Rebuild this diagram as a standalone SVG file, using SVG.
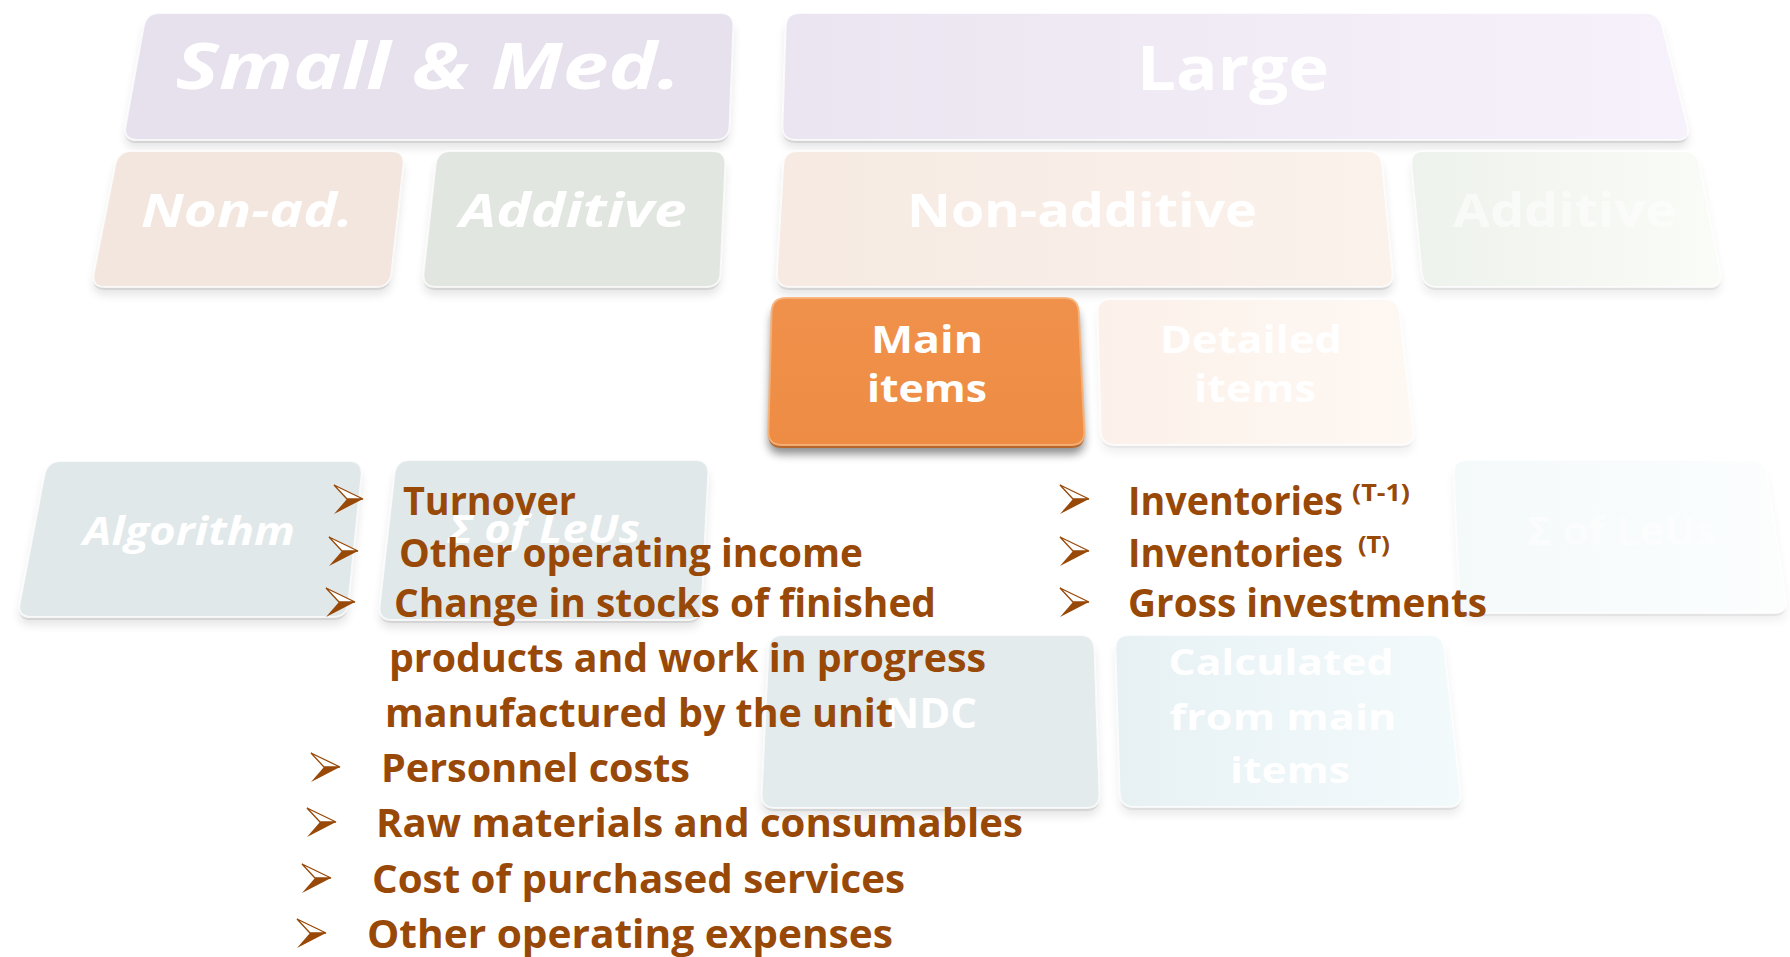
<svg xmlns="http://www.w3.org/2000/svg" width="1790" height="957" viewBox="0 0 1790 957">
<defs>
<style>
.shadow{fill:#000;opacity:.10;filter:url(#blur)}
.rim{fill:#000;opacity:.08}
.face{stroke:#fff;stroke-width:2;stroke-opacity:.75}
.lbl{font-family:"Open Sans","Liberation Sans",sans-serif;font-weight:700;fill:#fff;text-anchor:middle}
.it{font-style:italic}
.faint{fill-opacity:.55}
.item{font-family:"Open Sans","Liberation Sans",sans-serif;font-weight:700;font-size:39px;fill:#984807}
.sup{font-size:23px}
.bt{fill:#fff;stroke:#984807;stroke-width:1.3;stroke-linejoin:miter}
.bb{fill:#984807}
</style>
<filter id="blur" x="-10%" y="-20%" width="120%" height="150%"><feGaussianBlur stdDeviation="5"/></filter>
<linearGradient id="gLg" x1="0" y1="0" x2="1" y2="0"><stop offset="0" stop-color="#EBE5F1"/><stop offset="1" stop-color="#F6F1FA"/></linearGradient>
<linearGradient id="gNa2" x1="0" y1="0" x2="1" y2="0"><stop offset="0" stop-color="#F6EAE2"/><stop offset="1" stop-color="#FBF2EC"/></linearGradient>
<linearGradient id="gAd2" x1="0" y1="0" x2="1" y2="0"><stop offset="0" stop-color="#EEF2EC"/><stop offset="1" stop-color="#FAFCF7"/></linearGradient>
<linearGradient id="gMi" x1="0" y1="0" x2="0" y2="1"><stop offset="0" stop-color="#F0914B"/><stop offset="1" stop-color="#EE8C44"/></linearGradient>
<linearGradient id="gDi" x1="0" y1="0" x2="1" y2="0"><stop offset="0" stop-color="#FCF1EA"/><stop offset="1" stop-color="#FEF8F3"/></linearGradient>
<linearGradient id="gSum2" x1="0" y1="0" x2="1" y2="0"><stop offset="0" stop-color="#F4F9FA"/><stop offset="1" stop-color="#FCFEFE"/></linearGradient>
<linearGradient id="gCalc" x1="0" y1="0" x2="1" y2="0"><stop offset="0" stop-color="#E7F1F4"/><stop offset="1" stop-color="#F3FAFC"/></linearGradient>
<g id="bullet"><path class="bt" d="M-29,-14 L0,0 L-16,0 Z"/><path class="bb" d="M0,0 L-29,15 L-16,0 Z"/></g>
<path id="p-sm" d="M160,13 L720,13 Q734,13 733.4,27 L729.6,126 Q729,140 715,140 L137,140 Q123,140 125.5,126 L143.5,27 Q146,13 160,13Z"/>
<path id="p-lg" d="M800,13 L1645,13 Q1659,13 1662.5,27 L1687.5,126 Q1691,140 1677,140 L796,140 Q782,140 782.4,126 L785.6,27 Q786,13 800,13Z"/>
<path id="p-na1" d="M132,151 L391,151 Q405,151 403.5,165 L391.5,273 Q390,287 376,287 L105,287 Q91,287 93.8,273 L115.2,165 Q118,151 132,151Z"/>
<path id="p-ad1" d="M451,151 L712,151 Q726,151 725.4,165 L720.6,273 Q720,287 706,287 L436,287 Q422,287 423.5,273 L435.5,165 Q437,151 451,151Z"/>
<path id="p-na2" d="M798,151 L1367,151 Q1381,151 1382.3,165 L1392.7,273 Q1394,287 1380,287 L790,287 Q776,287 776.8,273 L783.2,165 Q784,151 798,151Z"/>
<path id="p-ad2" d="M1424,151 L1683,151 Q1697,151 1699.7,165 L1720.3,273 Q1723,287 1709,287 L1437,287 Q1423,287 1421.7,273 L1411.3,165 Q1410,151 1424,151Z"/>
<path id="p-mi" d="M786,298 L1064,298 Q1078,298 1078.7,312 L1084.3,431 Q1085,445 1071,445 L782,445 Q768,445 768.4,431 L771.6,312 Q772,298 786,298Z"/>
<path id="p-di" d="M1111,299 L1384,299 Q1398,299 1399.6,313 L1413.4,431 Q1415,445 1401,445 L1115,445 Q1101,445 1100.6,431 L1097.4,313 Q1097,299 1111,299Z"/>
<path id="p-alg" d="M61,461 L349,461 Q363,461 361.6,475 L348.4,603 Q347,617 333,617 L31,617 Q17,617 19.7,603 L44.3,475 Q47,461 61,461Z"/>
<path id="p-sum1" d="M410,460 L695,460 Q709,460 708.3,474 L701.7,606 Q701,620 687,620 L392,620 Q378,620 379.6,606 L394.4,474 Q396,460 410,460Z"/>
<path id="p-sum2" d="M1467,460 L1751,460 Q1765,460 1767.1,474 L1785.9,599 Q1788,613 1774,613 L1474,613 Q1460,613 1459.4,599 L1453.6,474 Q1453,460 1467,460Z"/>
<path id="p-ndc" d="M783,635 L1080,635 Q1094,635 1094.5,649 L1099.5,794 Q1100,808 1086,808 L775,808 Q761,808 761.6,794 L768.4,649 Q769,635 783,635Z"/>
<path id="p-calc" d="M1129,635 L1429,635 Q1443,635 1444.5,649 L1460.5,793 Q1462,807 1448,807 L1134,807 Q1120,807 1119.6,793 L1115.4,649 Q1115,635 1129,635Z"/>
</defs>
<rect width="1790" height="957" fill="#fff"/>

<g id="node-small-med">
<use href="#p-sm" class="shadow" transform="translate(0,8)"/>
<use href="#p-sm" class="rim" transform="translate(0,3)"/>
<use href="#p-sm" class="face" fill="#E6E1ED"/>
<text class="lbl it" x="428" y="89" font-size="64" textLength="505" lengthAdjust="spacingAndGlyphs">Small &amp; Med.</text>
</g>
<g id="node-large">
<use href="#p-lg" class="shadow" transform="translate(0,8)"/>
<use href="#p-lg" class="rim" transform="translate(0,3)"/>
<use href="#p-lg" class="face" fill="url(#gLg)"/>
<text class="lbl" x="1233" y="90" font-size="61" textLength="192" lengthAdjust="spacingAndGlyphs">Large</text>
</g>
<g id="node-non-ad">
<use href="#p-na1" class="shadow" transform="translate(0,8)"/>
<use href="#p-na1" class="rim" transform="translate(0,3)"/>
<use href="#p-na1" class="face" fill="#F2E6DF"/>
<text class="lbl it" x="247" y="227" font-size="46" textLength="212" lengthAdjust="spacingAndGlyphs">Non-ad.</text>
</g>
<g id="node-additive-sm">
<use href="#p-ad1" class="shadow" transform="translate(0,8)"/>
<use href="#p-ad1" class="rim" transform="translate(0,3)"/>
<use href="#p-ad1" class="face" fill="#E2E6E0"/>
<text class="lbl it" x="573" y="227" font-size="46" textLength="227" lengthAdjust="spacingAndGlyphs">Additive</text>
</g>
<g id="node-non-additive">
<use href="#p-na2" class="shadow" transform="translate(0,8)"/>
<use href="#p-na2" class="rim" transform="translate(0,3)"/>
<use href="#p-na2" class="face" fill="url(#gNa2)"/>
<text class="lbl" x="1082" y="227" font-size="46" textLength="350" lengthAdjust="spacingAndGlyphs">Non-additive</text>
</g>
<g id="node-additive-large">
<use href="#p-ad2" class="shadow" style="opacity:.07" transform="translate(0,8)"/>
<use href="#p-ad2" class="rim" style="opacity:.06" transform="translate(0,3)"/>
<use href="#p-ad2" class="face" fill="url(#gAd2)"/>
<text class="lbl faint" x="1565" y="227" font-size="46" textLength="224" lengthAdjust="spacingAndGlyphs">Additive</text>
</g>
<g id="node-main-items">
<use href="#p-mi" class="shadow" style="opacity:.45" transform="translate(0,9)"/>
<use href="#p-mi" transform="translate(0,3)" fill="#B8672C"/>
<use href="#p-mi" class="face" fill="url(#gMi)" style="stroke:#F6B27A;stroke-opacity:.9"/>
<text class="lbl" x="927" y="353" font-size="38" textLength="112" lengthAdjust="spacingAndGlyphs">Main</text>
<text class="lbl" x="927" y="402" font-size="38" textLength="120" lengthAdjust="spacingAndGlyphs">items</text>
</g>
<g id="node-detailed-items">
<use href="#p-di" class="shadow" style="opacity:.06" transform="translate(0,8)"/>
<use href="#p-di" class="rim" style="opacity:.04" transform="translate(0,3)"/>
<use href="#p-di" class="face" fill="url(#gDi)"/>
<text class="lbl" x="1251" y="353" font-size="38" textLength="182" lengthAdjust="spacingAndGlyphs">Detailed</text>
<text class="lbl" x="1255" y="402" font-size="38" textLength="122" lengthAdjust="spacingAndGlyphs">items</text>
</g>
<g id="node-algorithm">
<use href="#p-alg" class="shadow" transform="translate(0,8)"/>
<use href="#p-alg" class="rim" transform="translate(0,3)"/>
<use href="#p-alg" class="face" fill="#E1E8EA"/>
<text class="lbl it" x="189" y="545" font-size="40" textLength="212" lengthAdjust="spacingAndGlyphs">Algorithm</text>
</g>
<g id="node-sum-leus-sm">
<use href="#p-sum1" class="shadow" transform="translate(0,8)"/>
<use href="#p-sum1" class="rim" transform="translate(0,3)"/>
<use href="#p-sum1" class="face" fill="#E1E8EA"/>
<text class="lbl it" x="544" y="543" font-size="40" textLength="192" lengthAdjust="spacingAndGlyphs">Σ of LeUs</text>
</g>
<g id="node-sum-leus-large">
<use href="#p-sum2" class="shadow" style="opacity:.06" transform="translate(0,8)"/>
<use href="#p-sum2" class="rim" style="opacity:.05" transform="translate(0,3)"/>
<use href="#p-sum2" class="face" fill="url(#gSum2)"/>
<text class="lbl faint" x="1622" y="545" font-size="40" textLength="190" lengthAdjust="spacingAndGlyphs">Σ of LeUs</text>
</g>
<g id="node-ndc">
<use href="#p-ndc" class="shadow" transform="translate(0,8)"/>
<use href="#p-ndc" class="rim" transform="translate(0,3)"/>
<use href="#p-ndc" class="face" fill="#E3EBED"/>
<text class="lbl" x="931" y="728" font-size="42" textLength="92" lengthAdjust="spacingAndGlyphs">NDC</text>
</g>
<g id="node-calculated">
<use href="#p-calc" class="shadow" style="opacity:.08" transform="translate(0,8)"/>
<use href="#p-calc" class="rim" style="opacity:.06" transform="translate(0,3)"/>
<use href="#p-calc" class="face" fill="url(#gCalc)"/>
<text class="lbl" x="1281" y="675" font-size="36" textLength="225" lengthAdjust="spacingAndGlyphs">Calculated</text>
<text class="lbl" x="1283" y="730" font-size="36" textLength="227" lengthAdjust="spacingAndGlyphs">from main</text>
<text class="lbl" x="1290" y="783" font-size="36" textLength="120" lengthAdjust="spacingAndGlyphs">items</text>
</g>

<g id="list-left">
<use href="#bullet" x="363" y="499"/>
<text class="item" x="403" y="515" textLength="173" lengthAdjust="spacingAndGlyphs">Turnover</text>
<use href="#bullet" x="358" y="551"/>
<text class="item" x="399" y="567" textLength="464" lengthAdjust="spacingAndGlyphs">Other operating income</text>
<use href="#bullet" x="355" y="602"/>
<text class="item" x="394" y="617" textLength="542" lengthAdjust="spacingAndGlyphs">Change in stocks of finished</text>
<text class="item" x="389" y="672" textLength="597" lengthAdjust="spacingAndGlyphs">products and work in progress</text>
<text class="item" x="385" y="727" textLength="508" lengthAdjust="spacingAndGlyphs">manufactured by the unit</text>
<use href="#bullet" x="340" y="767"/>
<text class="item" x="381" y="782" textLength="309" lengthAdjust="spacingAndGlyphs">Personnel costs</text>
<use href="#bullet" x="336" y="822"/>
<text class="item" x="376" y="837" textLength="647" lengthAdjust="spacingAndGlyphs">Raw materials and consumables</text>
<use href="#bullet" x="331" y="878"/>
<text class="item" x="372" y="893" textLength="533" lengthAdjust="spacingAndGlyphs">Cost of purchased services</text>
<use href="#bullet" x="326" y="933"/>
<text class="item" x="367" y="948" textLength="526" lengthAdjust="spacingAndGlyphs">Other operating expenses</text>
</g>

<g id="list-right">
<use href="#bullet" x="1089" y="499"/>
<text class="item" x="1128" y="515" textLength="215" lengthAdjust="spacingAndGlyphs">Inventories</text>
<text class="item sup" x="1352" y="501" textLength="58" lengthAdjust="spacingAndGlyphs">(T-1)</text>
<use href="#bullet" x="1089" y="551"/>
<text class="item" x="1128" y="567" textLength="215" lengthAdjust="spacingAndGlyphs">Inventories</text>
<text class="item sup" x="1358" y="553" textLength="32" lengthAdjust="spacingAndGlyphs">(T)</text>
<use href="#bullet" x="1089" y="602"/>
<text class="item" x="1128" y="617" textLength="359" lengthAdjust="spacingAndGlyphs">Gross investments</text>
</g>
</svg>
